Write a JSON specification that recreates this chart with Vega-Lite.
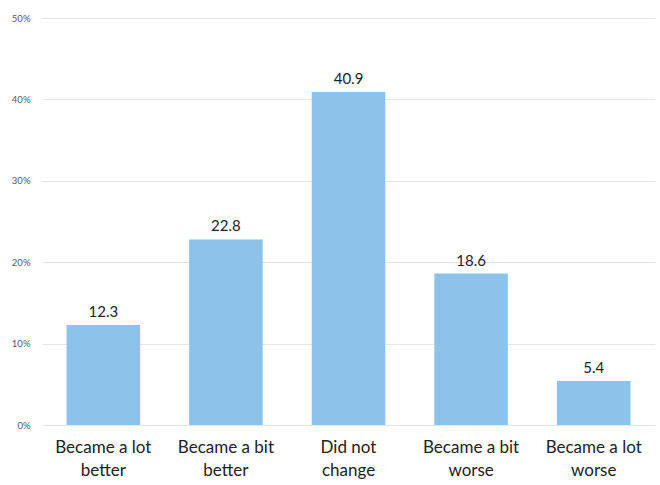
{
  "$schema": "https://vega.github.io/schema/vega-lite/v6.json",
  "width": 613,
  "height": 407,
  "autosize": "none",
  "padding": {"left": 42, "top": 18, "right": 5, "bottom": 60},
  "background": "white",
  "config": {
    "view": {"stroke": null},
    "font": "Lato"
  },
  "data": {
    "values": [
      {"response": "Became a lot|better", "pct": 12.3},
      {"response": "Became a bit|better", "pct": 22.8},
      {"response": "Did not|change", "pct": 40.9},
      {"response": "Became a bit|worse", "pct": 18.6},
      {"response": "Became a lot|worse", "pct": 5.4}
    ]
  },
  "encoding": {
    "x": {
      "field": "response",
      "type": "nominal",
      "sort": null,
      "title": null,
      "scale": {"paddingInner": 0.4, "paddingOuter": 0.2},
      "axis": {
        "labelExpr": "split(datum.label, '|')",
        "labelAngle": 0,
        "labelFontSize": 17,
        "labelColor": "#222222",
        "labelLineHeight": 23,
        "labelPadding": 14,
        "ticks": false,
        "domain": false
      }
    },
    "y": {
      "field": "pct",
      "type": "quantitative",
      "title": null,
      "scale": {"domain": [0, 50], "nice": false},
      "axis": {
        "values": [0, 10, 20, 30, 40, 50],
        "labelExpr": "datum.value + '%'",
        "labelFontSize": 9.5,
        "labelColor": "#595959",
        "labelPadding": 12,
        "ticks": false,
        "domain": false,
        "gridColor": "#e4e4e4",
        "gridWidth": 1
      }
    }
  },
  "layer": [
    {"mark": {"type": "bar", "color": "#8dc3ea"}},
    {
      "mark": {"type": "text", "dy": -13, "fontSize": 15, "color": "#222222"},
      "encoding": {"text": {"field": "pct", "type": "quantitative", "format": ".1f"}}
    }
  ]
}
